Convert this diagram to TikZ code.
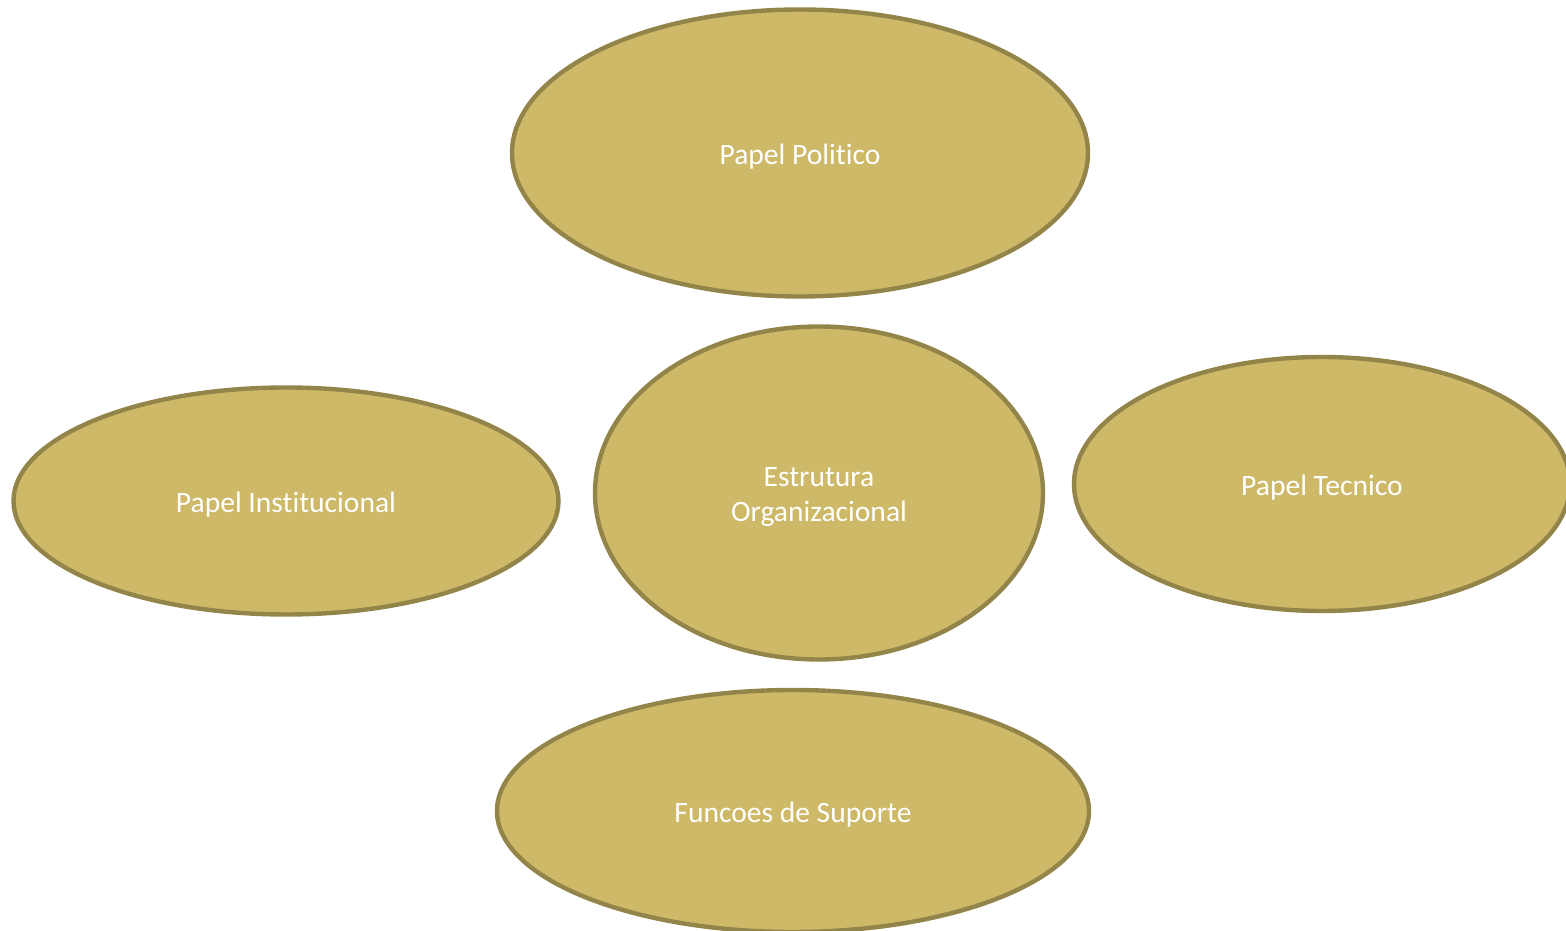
\documentclass[tikz,border=0pt]{standalone}
\usepackage{fontspec}
\setmainfont[Ligatures=NoCommon]{Carlito}
\usetikzlibrary{shapes.geometric}
\definecolor{fillc}{HTML}{CDB967}
\definecolor{linec}{HTML}{938449}
\tikzset{
  oval/.style={ellipse, draw=linec, fill=fillc, line width=1.25pt, inner sep=0pt},
  ovaltext/.style={label={[text=white, font=\fontsize{8.4}{10}\selectfont, align=center, yshift=-1.1pt]center:#1}}
}
\begin{document}
\begin{tikzpicture}[x=0.01cm,y=-0.01cm]
\useasboundingbox (0,0) rectangle (1566,931);
\clip (0,0) rectangle (1566,931);
\node[oval, minimum width=576*0.01cm, minimum height=287*0.01cm, ovaltext={Papel Politico}] (pol) at (800,153) {};
\node[oval, minimum width=448*0.01cm, minimum height=333*0.01cm, ovaltext={Estrutura\\Organizacional}] (est) at (819,493) {};
\node[oval, minimum width=545*0.01cm, minimum height=227*0.01cm, ovaltext={Papel Institucional}] (ins) at (286,501) {};
\node[oval, minimum width=496*0.01cm, minimum height=254*0.01cm, ovaltext={Papel Tecnico}] (tec) at (1322,484) {};
\node[oval, minimum width=592*0.01cm, minimum height=242*0.01cm, ovaltext={Funcoes de Suporte}] (sup) at (793,811) {};
\end{tikzpicture}
\end{document}
